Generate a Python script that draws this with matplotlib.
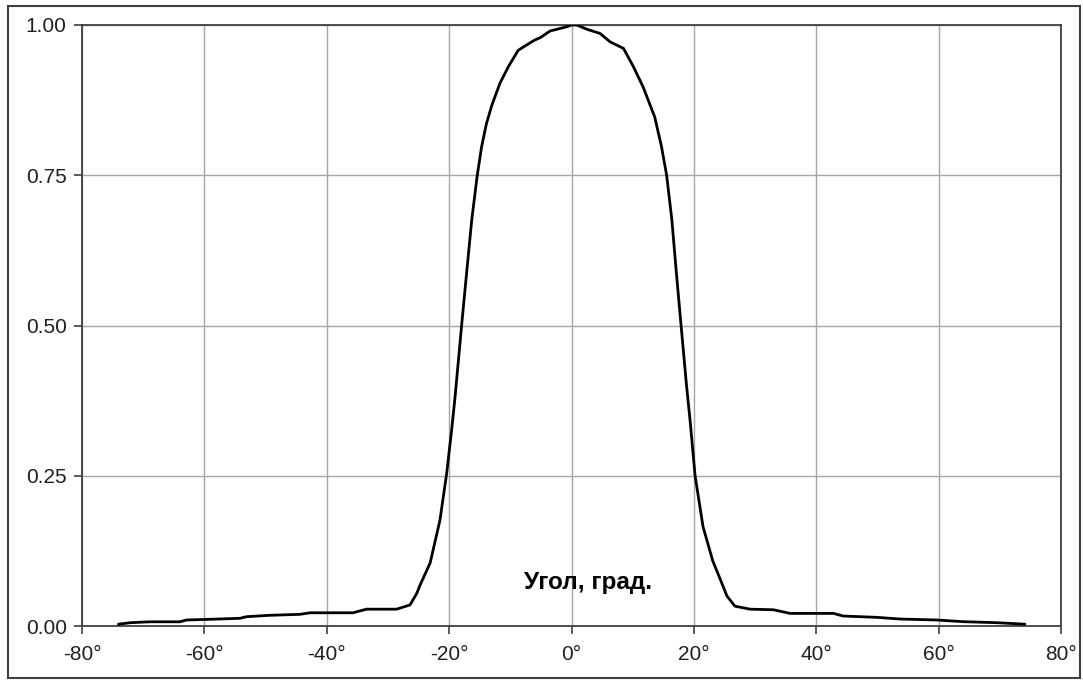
import numpy as np
import matplotlib.pyplot as plt
from matplotlib.patches import Rectangle

# angle (deg) and relative intensity
angle = [-74.05, -72.1, -68.9, -64, -62.9, -59.6, -54.2, -53.1, -49.3, -44.4, -42.7,
         -35.7, -33.5, -28.6, -26.4, -25.3, -24.75, -23.1, -21.5, -20.4, -19.6, -19.04,
         -17.95, -17.1, -16.3, -15.4, -14.7, -13.9, -13.0, -11.7, -10.3, -8.7, -7.3,
         -6.0, -5.1, -3.5, -0.8, 0,
         0.85, 2.5, 4.65, 6.3, 8.5, 10.1, 11.7, 13.6, 14.7, 15.55, 16.4, 17.1, 17.9,
         18.8, 19.4, 20.2, 21.5, 23.1, 24.3, 25.4, 26.7, 29.2, 33.0, 35.7, 42.8, 44.4,
         49.9, 53.7, 59.7, 64.0, 69.5, 74.1]
intensity = [0.003, 0.0055, 0.007, 0.007, 0.010, 0.011, 0.0128, 0.0155, 0.0178, 0.0194,
             0.022, 0.022, 0.028, 0.028, 0.035, 0.054, 0.068, 0.105, 0.176, 0.254, 0.325,
             0.38, 0.501, 0.592, 0.676, 0.75, 0.797, 0.836, 0.867, 0.903, 0.931, 0.958,
             0.967, 0.975, 0.979, 0.99, 0.997, 1.0,
             1.0, 0.993, 0.986, 0.972, 0.961, 0.931, 0.897, 0.847, 0.798, 0.75, 0.676,
             0.592, 0.501, 0.40, 0.34, 0.25, 0.165, 0.108, 0.078, 0.05, 0.033, 0.028,
             0.027, 0.021, 0.021, 0.0166, 0.0144, 0.0116, 0.010, 0.0072, 0.0055, 0.003]

xticks = [-80, -60, -40, -20, 0, 20, 40, 60, 80]
yticks = [0.0, 0.25, 0.5, 0.75, 1.0]

plt.rcParams['font.family'] = ['Liberation Sans', 'DejaVu Sans']

fig = plt.figure(figsize=(10.83, 6.81), dpi=100)
ax = fig.add_axes([82 / 1083, 55 / 681, 979 / 1083, 601 / 681])

ax.plot(angle, intensity, color='black', linewidth=2.0, zorder=3,
        solid_joinstyle='round', solid_capstyle='round')

ax.set_xlim(-80, 80)
ax.set_ylim(0, 1)
ax.set_xticks(xticks)
ax.set_xticklabels([f"{t}°" for t in xticks])
ax.set_yticks(yticks)
ax.set_yticklabels([f"{t:.2f}" for t in yticks])
ax.grid(True, color='#a6a6a6', linewidth=1.0)
ax.set_axisbelow(True)

for s in ax.spines.values():
    s.set_color('#404040')
    s.set_linewidth(1.3)
ax.tick_params(direction='out', length=6, width=1.2, color='#404040',
               labelsize=15, labelcolor='#202020')
ax.tick_params(axis='x', pad=8)
ax.tick_params(axis='y', pad=5)

ax.text(2.7, 0.072, 'Угол, град.', fontsize=17.5, fontweight='bold',
        ha='center', va='center', color='black')

# outer frame around the chart
fig.patches.append(Rectangle((8 / 1083, 3 / 681), 1072 / 1083, 672 / 681,
                             transform=fig.transFigure, fill=False,
                             edgecolor='#404040', linewidth=1.5))

fig.savefig('out.png', dpi=100)
